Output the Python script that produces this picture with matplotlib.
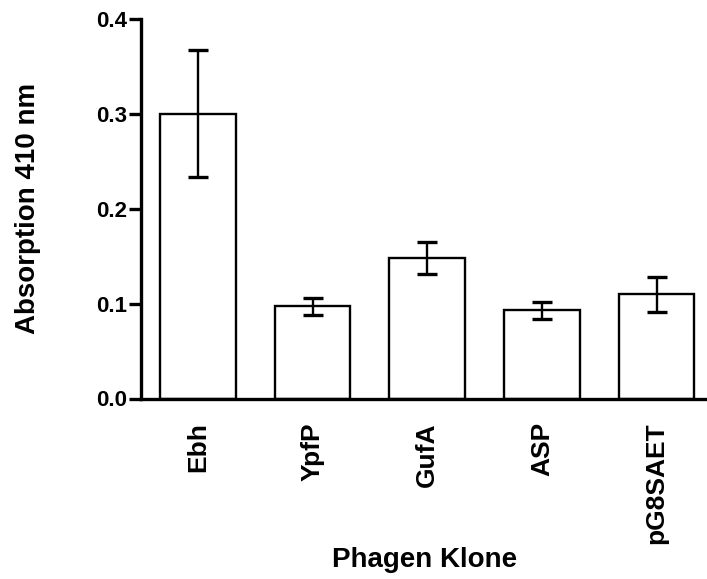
import numpy as np
import matplotlib
matplotlib.use("Agg")
import matplotlib.pyplot as plt

plt.rcParams['font.family'] = ['Liberation Sans', 'DejaVu Sans']
plt.rcParams['font.weight'] = 'bold'

clones = ["Ebh", "YpfP", "GufA", "ASP", "pG8SAET"]
absorption = [0.300, 0.097, 0.148, 0.093, 0.110]
sem = [0.067, 0.009, 0.017, 0.0087, 0.0185]

W, H = 707, 579
fig = plt.figure(figsize=(W / 100, H / 100), dpi=100)
ax = fig.add_axes([141 / W, 1 - 398.5 / H, (707 - 141) / W, (398.5 - 19) / H])

x = np.arange(len(clones))
ax.bar(x, absorption, width=0.66, color='white', edgecolor='black', linewidth=1.7, zorder=2)
ax.errorbar(x, absorption, yerr=sem, fmt='none', ecolor='black', elinewidth=1.7,
            capsize=7.5, capthick=2.4, zorder=3)

ax.set_xlim(-0.497, 4.44)
ax.set_ylim(0, 0.4)
ax.set_yticks([0.0, 0.1, 0.2, 0.3, 0.4])
ax.set_yticklabels(["0.0", "0.1", "0.2", "0.3", "0.4"], fontsize=16, fontweight='bold')
ax.set_xticks(x)
ax.set_xticklabels(clones, rotation=90, fontsize=19, fontweight='bold')
ax.tick_params(axis='x', length=0, pad=17)
ax.tick_params(axis='y', length=9, width=2.4, pad=1)

for side in ['top', 'right']:
    ax.spines[side].set_visible(False)
for side in ['left', 'bottom']:
    ax.spines[side].set_linewidth(2.4)

fig.text(28 / W, 1 - 208 / H, "Absorption 410 nm", rotation=90, fontsize=20,
         fontweight='bold', ha='center', va='center')
fig.text(425 / W, 1 - 560 / H, "Phagen Klone", fontsize=20,
         fontweight='bold', ha='center', va='center')

fig.savefig("out.png", dpi=100)
